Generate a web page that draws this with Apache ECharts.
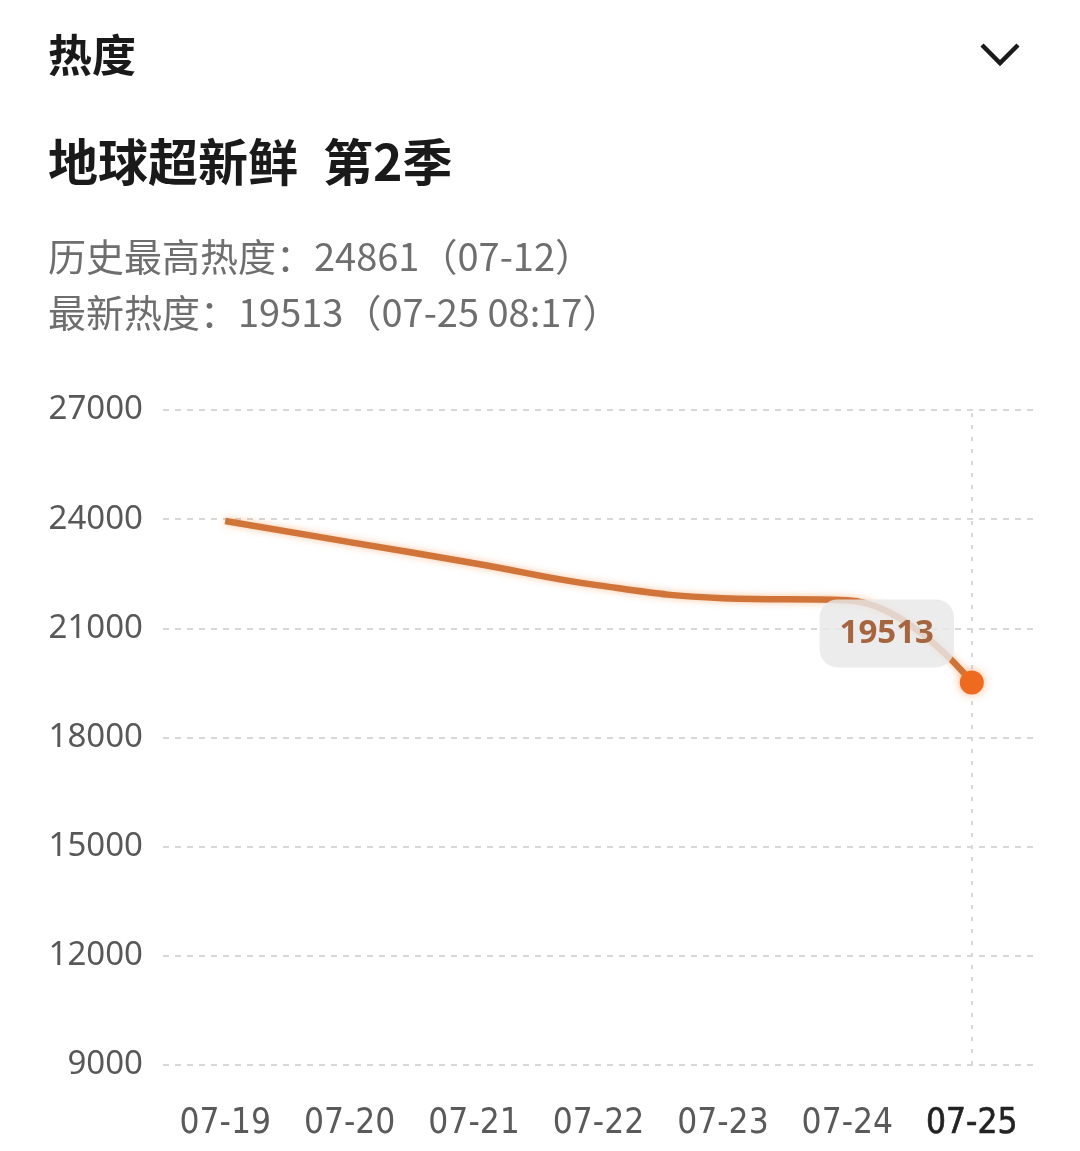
<!DOCTYPE html>
<html>
<head>
<meta charset="utf-8">
<script src="https://cdn.jsdelivr.net/npm/echarts@6/dist/echarts.min.js"></script>
<style>
html,body{margin:0;padding:0;background:#fff;}
#chart{width:1080px;height:1151px;}
</style>
</head>
<body>
<div id="chart"></div>
<script>
// ---- data ----
const categories = ['07-19','07-20','07-21','07-22','07-23','07-24','07-25'];
const heatValues = [23950, 23370, 22790, 22180, 21830, 21770, 19513];
const yTicks = { min: 9000, max: 27000, interval: 3000 };
const headerText = '热度';
const showTitle = '地球超新鲜 第2季';
const peakLine = '历史最高热度：24861（07-12）';
const latestLine = '最新热度：19513（07-25 08:17）';

const cjk = '"Noto Sans CJK SC", "Noto Sans", sans-serif';
const cond = '"DejaVu Sans Condensed", "DejaVu Sans", sans-serif';
const lastIdx = heatValues.length - 1;

const chart = echarts.init(document.getElementById('chart'), null, { renderer: 'canvas' });
chart.setOption({
  backgroundColor: '#ffffff',
  animation: false,
  grid: { left: 163, right: 46, top: 410, bottom: 86, containLabel: false },
  xAxis: {
    type: 'category',
    data: categories,
    boundaryGap: true,
    axisLine: { show: false },
    axisTick: { show: false },
    splitLine: { show: false },
    axisLabel: {
      margin: 41,
      formatter: v => v === categories[lastIdx] ? '{b|' + v + '}' : '{a|' + v + '}',
      rich: {
        a: { fontFamily: cond, fontSize: 35, color: '#5a5a5a' },
        b: { fontFamily: cond, fontSize: 35, color: '#222', textBorderColor: '#222', textBorderWidth: 0.6 }
      }
    }
  },
  yAxis: {
    type: 'value',
    min: yTicks.min,
    max: yTicks.max,
    interval: yTicks.interval,
    axisLine: { show: false },
    axisTick: { show: false },
    axisLabel: {
      margin: 20,
      formatter: v => String(v),
      fontFamily: '"Noto Sans", sans-serif',
      fontSize: 33,
      color: '#585858'
    },
    splitLine: { show: true, lineStyle: { type: [6, 6], width: 2, color: '#d8d8d8' } }
  },
  series: [{
    type: 'line',
    data: [],
    silent: true,
    z: 1,
    markLine: {
      silent: true,
      symbol: 'none',
      label: { show: false },
      lineStyle: { type: [4, 8], width: 2, color: '#d8d8d8' },
      data: [{ xAxis: categories[lastIdx] }]
    }
  }, {
    type: 'line',
    data: heatValues,
    smooth: 0.45,
    symbol: 'none',
    showSymbol: false,
    lineStyle: { color: '#d0743a', width: 6.5, shadowBlur: 7, shadowColor: 'rgba(245,140,60,0.5)' },
    z: 3
  }, {
    type: 'scatter',
    data: [[categories[lastIdx], heatValues[lastIdx]]],
    symbol: 'circle',
    symbolSize: 24,
    z: 5,
    itemStyle: { color: '#ee6a1e', opacity: 1, shadowBlur: 10, shadowColor: 'rgba(240,110,30,0.5)' },
    label: {
      show: true,
      position: 'top',
      distance: 5,
      offset: [-85, 2],
      formatter: p => String(p.value[1]),
      fontFamily: '"Noto Sans", sans-serif',
      fontSize: 33,
      fontWeight: 'bold',
      color: '#a5653f',
      backgroundColor: 'rgba(232,232,232,0.82)',
      borderRadius: 18,
      padding: [18, 20, 17, 20]
    }
  }],
  graphic: [
    { type: 'text', left: 48, top: 33, style: { text: headerText, fontFamily: cjk, fontSize: 44, fontWeight: 'bold', fill: '#1a1a1a' } },
    { type: 'polyline', shape: { points: [[982, 45], [1000, 63], [1018, 45]] }, style: { stroke: '#1a1a1a', lineWidth: 4.5, fill: null } },
    { type: 'text', left: 48, top: 137, style: { text: showTitle.replace(' ', '\u2002'), fontFamily: cjk, fontSize: 50, fontWeight: 'bold', fill: '#1a1a1a' } },
    { type: 'text', left: 48, top: 238, style: { text: peakLine, fontFamily: cjk, fontSize: 38, fill: '#6e6e6e' } },
    { type: 'text', left: 48, top: 294, style: { text: latestLine, fontFamily: cjk, fontSize: 38, fill: '#6e6e6e' } }
  ]
});
</script>
</body>
</html>
